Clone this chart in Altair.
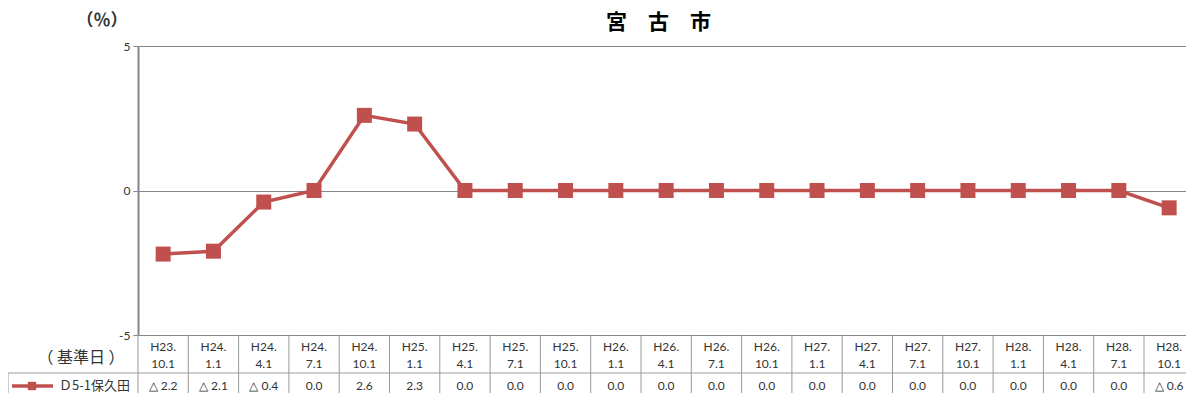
import altair as alt
import pandas as pd

# ---- data ----
categories = ["H23.\n10.1", "H24.\n1.1", "H24.\n4.1", "H24.\n7.1", "H24.\n10.1",
              "H25.\n1.1", "H25.\n4.1", "H25.\n7.1", "H25.\n10.1",
              "H26.\n1.1", "H26.\n4.1", "H26.\n7.1", "H26.\n10.1",
              "H27.\n1.1", "H27.\n4.1", "H27.\n7.1", "H27.\n10.1",
              "H28.\n1.1", "H28.\n4.1", "H28.\n7.1", "H28.\n10.1"]
values = [-2.2, -2.1, -0.4, 0.0, 2.6, 2.3, 0.0, 0.0, 0.0, 0.0, 0.0,
          0.0, 0.0, 0.0, 0.0, 0.0, 0.0, 0.0, 0.0, 0.0, -0.6]
series_name = "Ｄ5-1保久田"
chart_title = "宮　古　市"
y_unit = "（％）"
row_header = "（ 基準日 ）"
y_ticks = [-5, 0, 5]

def fmt(v):
    return f"△ {abs(v):.1f}" if v < 0 else f"{v:.1f}"

df = pd.DataFrame({
    "idx": list(range(len(categories))),
    "cat": categories,
    "value": values,
    "label": [fmt(v) for v in values],
})
bounds = pd.DataFrame({"b": [i - 0.5 for i in range(len(categories) + 1)]})

# plot area: the last column runs up to the right edge of the picture
COL = 50.3
W, H = 1048, 289
RED = "#C0504D"
GRID = "#868686"
TBL = "#9a9a9a"
TXT = "#333333"
NUM_FONT = "Lato"
JP_FONT = "Noto Sans CJK JP"

xscale = alt.Scale(domain=[-0.5, -0.5 + W / COL])
X = alt.X("idx:Q", scale=xscale, axis=None)
Y = alt.Y("value:Q", scale=alt.Scale(domain=[-5, 5]),
          axis=alt.Axis(values=y_ticks, grid=True, gridColor=GRID, gridWidth=1,
                        domainColor=GRID, domainWidth=2, tickColor=GRID,
                        tickSize=5, tickWidth=1, labelFontSize=12, labelColor=TXT,
                        labelFont=NUM_FONT, labelPadding=3,
                        labelExpr="datum.value + ''", title=""))

base = alt.Chart(df)
one = alt.Chart(alt.Data(values=[{}]))

line = base.mark_line(color=RED, strokeWidth=3.5).encode(x=X, y=Y)
pts = base.mark_point(shape="square", filled=True, size=225, color=RED,
                      opacity=1).encode(x=X, y=Y)

vrules = alt.Chart(bounds).mark_rule(color=TBL, strokeWidth=1).encode(
    x=alt.X("b:Q", scale=xscale, axis=None),
    y=alt.value(H), y2=alt.value(353))
hmid = one.mark_rule(color=TBL, strokeWidth=1).encode(
    x=alt.value(-130), x2=alt.value(W), y=alt.value(327))
lborder = one.mark_rule(color=TBL, strokeWidth=1).encode(
    x=alt.value(-130), y=alt.value(327), y2=alt.value(353))

cat_text = base.mark_text(lineBreak="\n", lineHeight=17, fontSize=12,
                          font=NUM_FONT, color=TXT, baseline="middle").encode(
    x=X, y=alt.value(301), text="cat:N")
val_text = base.mark_text(fontSize=12, font=NUM_FONT, color=TXT,
                          baseline="middle").encode(
    x=X, y=alt.value(340), text="label:N")

hdr = one.mark_text(fontSize=16, font=JP_FONT, color=TXT, baseline="middle").encode(
    x=alt.value(-57), y=alt.value(312), text=alt.value(row_header))
unit = one.mark_text(fontSize=17, font=JP_FONT, fontWeight="bold", color=TXT,
                     baseline="middle").encode(
    x=alt.value(-36), y=alt.value(-25), text=alt.value(y_unit))
ttl = one.mark_text(fontSize=21, font=JP_FONT, fontWeight="bold", color="#000000",
                    baseline="middle").encode(
    x=alt.value(520.5), y=alt.value(-23), text=alt.value(chart_title))

leg_line = one.mark_rule(color=RED, strokeWidth=3.5).encode(
    x=alt.value(-126), x2=alt.value(-85), y=alt.value(340))
leg_pt = one.mark_point(shape="square", filled=True, size=70, color=RED,
                        opacity=1).encode(x=alt.value(-106), y=alt.value(340))
leg_txt = one.mark_text(fontSize=13, font=JP_FONT, color=TXT, align="left",
                        baseline="middle").encode(
    x=alt.value(-79), y=alt.value(340), text=alt.value(series_name))

chart = alt.layer(
    line, pts, vrules, hmid, lborder, cat_text, val_text,
    hdr, unit, ttl, leg_line, leg_pt, leg_txt
).properties(
    width=W, height=H,
    autosize=alt.AutoSizeParams(type="none"),
    padding={"left": 130, "top": 38, "right": 0, "bottom": 58},
).configure_view(strokeWidth=0)

chart.save("out.html", embed_options={"renderer": "svg", "actions": False})
